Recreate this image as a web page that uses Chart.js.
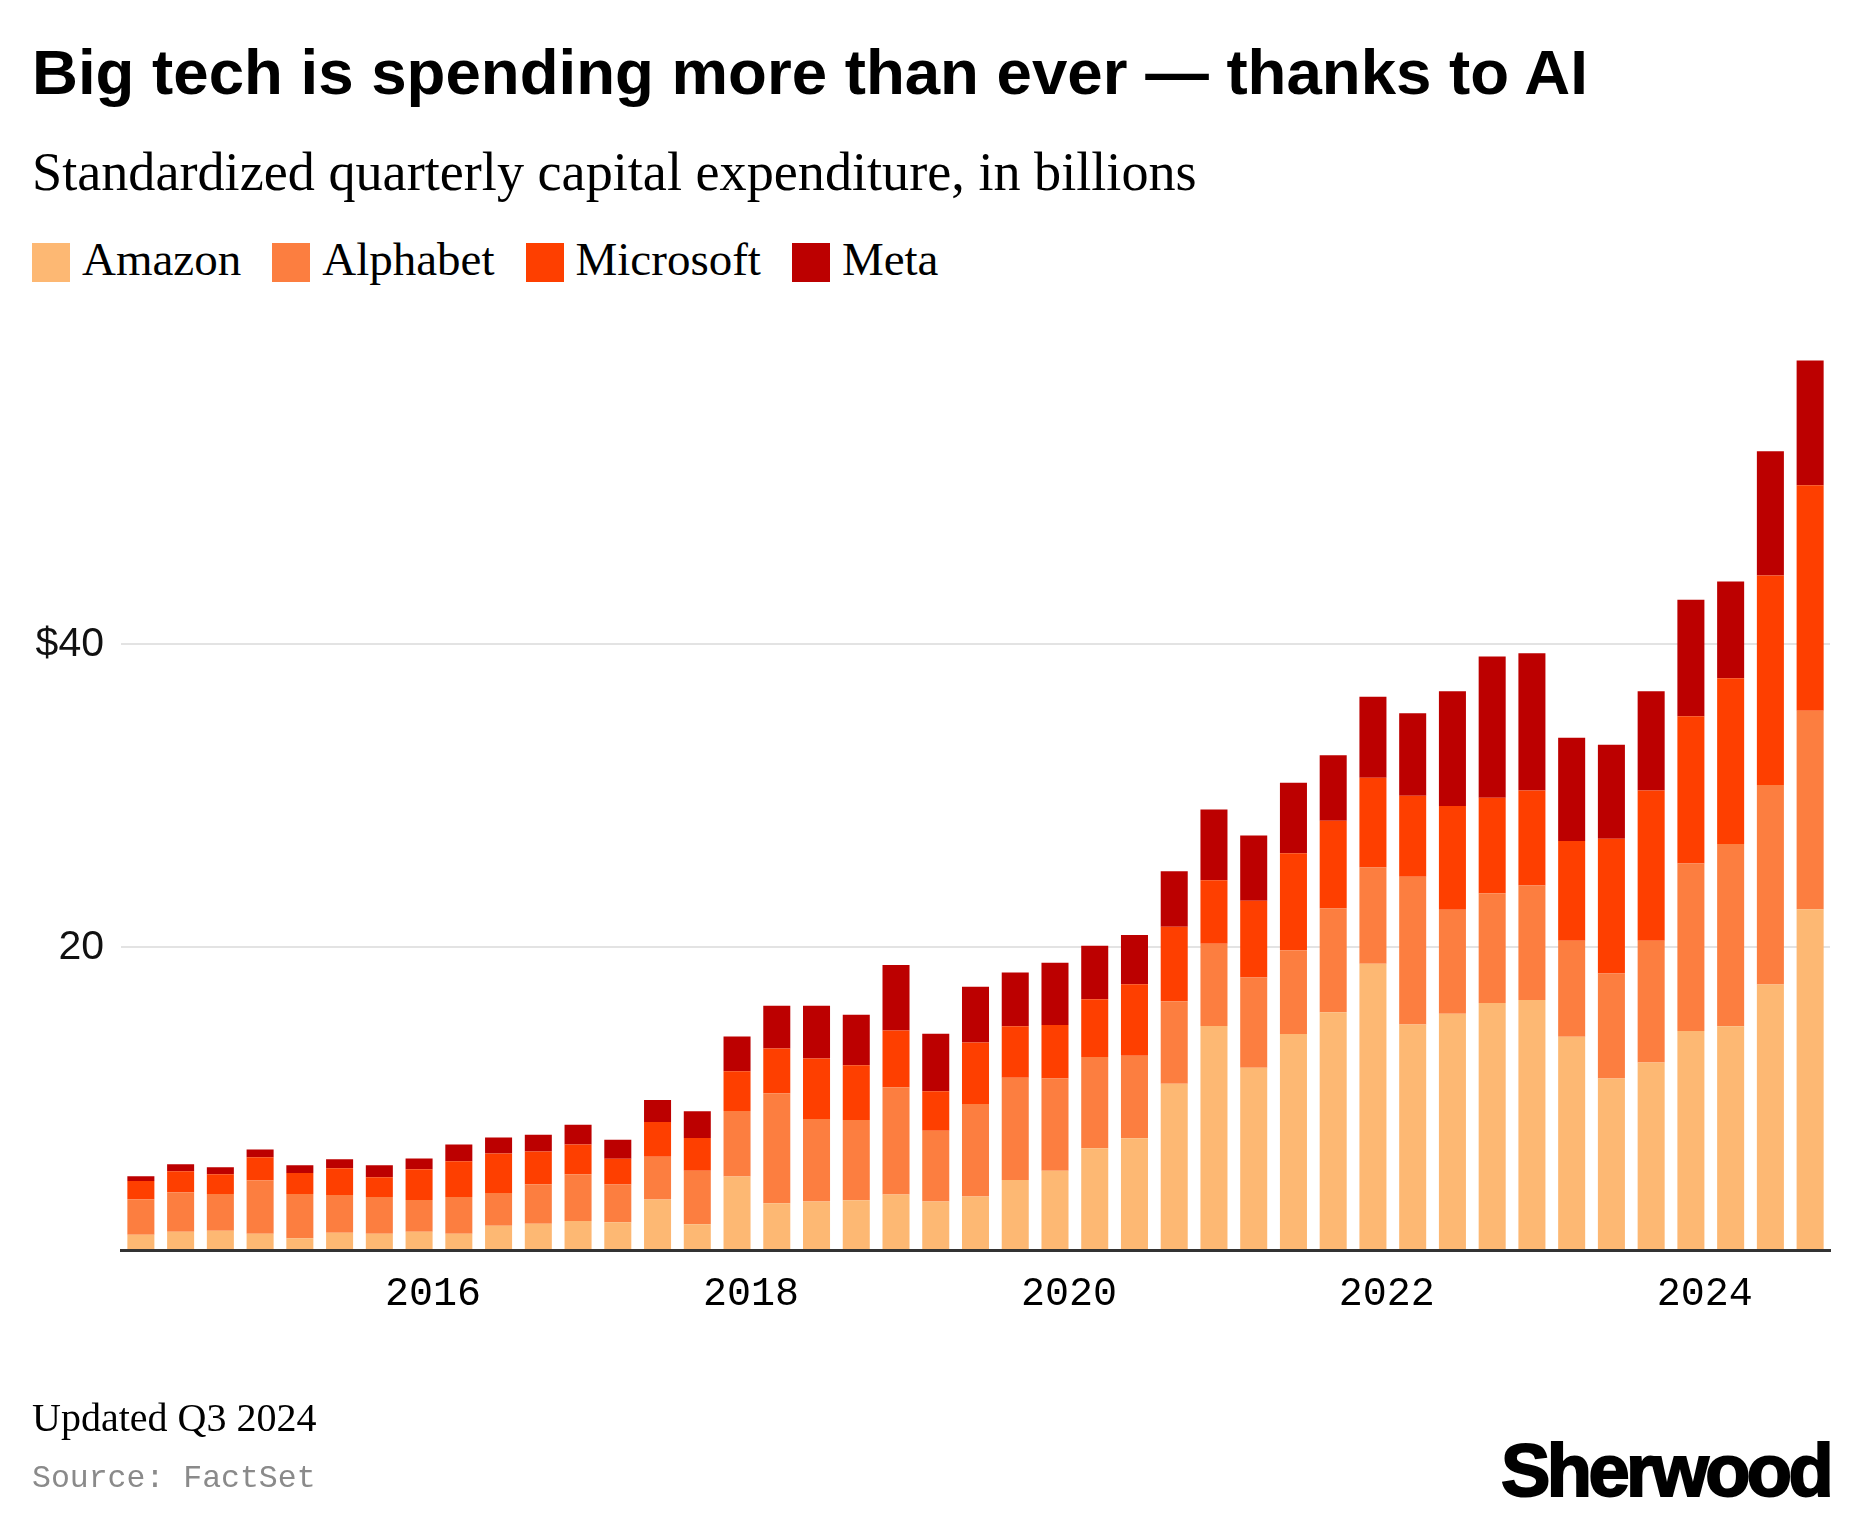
<!DOCTYPE html>
<html>
<head>
<meta charset="utf-8">
<script src="https://cdn.jsdelivr.net/npm/chart.js@4.4.1/dist/chart.umd.min.js"></script>
<style>
html, body { margin: 0; padding: 0; background: #fff; }
body { width: 1860px; height: 1533px; position: relative; overflow: hidden; color: #000; }
#title { position: absolute; left: 32px; top: 40px; font: 700 63.6px/1 "Liberation Sans", sans-serif; white-space: nowrap; }
#subtitle { position: absolute; left: 32px; top: 145px; font: 400 54.2px/1 "Liberation Serif", serif; white-space: nowrap; }
#legend { position: absolute; left: 32px; top: 236px; display: flex; gap: 31px; font: 400 47px/1 "Liberation Serif", serif; }
#legend .item { display: flex; align-items: flex-start; }
#legend .swatch { width: 38px; height: 39px; margin-top: 7px; margin-right: 12px; }
#wrap { position: absolute; left: 0; top: 300px; width: 1860px; height: 1100px; }
#updated { position: absolute; left: 32px; top: 1398px; font: 400 40px/1 "Liberation Serif", serif; white-space: nowrap; }
#source { position: absolute; left: 32px; top: 1463px; font: 400 31.5px/1 "Liberation Mono", monospace; color: #8a8a8a; white-space: nowrap; }
#logo { position: absolute; right: 30px; top: 1434px; font: 700 74px/1 "Liberation Sans", sans-serif; letter-spacing: -3.6px; -webkit-text-stroke: 2px #000; white-space: nowrap; }
</style>
</head>
<body>
<div id="title">Big tech is spending more than ever — thanks to AI</div>
<div id="subtitle">Standardized quarterly capital expenditure, in billions</div>
<div id="legend"></div>
<div id="wrap"><canvas id="chart" width="1860" height="1100"></canvas></div>
<div id="updated">Updated Q3 2024</div>
<div id="source">Source: FactSet</div>
<div id="logo">Sherwood</div>
<script>
'use strict';

// quarters, Q1 2014 .. Q3 2024
const quarters = [
    'Q1 2014', 'Q2 2014', 'Q3 2014', 'Q4 2014',
    'Q1 2015', 'Q2 2015', 'Q3 2015', 'Q4 2015',
    'Q1 2016', 'Q2 2016', 'Q3 2016', 'Q4 2016',
    'Q1 2017', 'Q2 2017', 'Q3 2017', 'Q4 2017',
    'Q1 2018', 'Q2 2018', 'Q3 2018', 'Q4 2018',
    'Q1 2019', 'Q2 2019', 'Q3 2019', 'Q4 2019',
    'Q1 2020', 'Q2 2020', 'Q3 2020', 'Q4 2020',
    'Q1 2021', 'Q2 2021', 'Q3 2021', 'Q4 2021',
    'Q1 2022', 'Q2 2022', 'Q3 2022', 'Q4 2022',
    'Q1 2023', 'Q2 2023', 'Q3 2023', 'Q4 2023',
    'Q1 2024', 'Q2 2024', 'Q3 2024'
];

// capex in billions
const amazon = [
    1.00, 1.20, 1.27, 1.07, 0.77, 1.14, 1.07, 1.20,
    1.07, 1.60, 1.73, 1.92, 1.84, 3.34, 1.70, 4.85,
    3.08, 3.21, 3.28, 3.67, 3.21, 3.54, 4.63, 5.23,
    6.72, 7.38, 10.98, 14.79, 12.04, 14.26, 15.70, 18.91,
    14.89, 15.61, 16.31, 16.51, 14.08, 11.33, 12.39, 14.47,
    14.78, 17.53, 22.51
];
const alphabet = [
    2.36, 2.62, 2.43, 3.54, 2.93, 2.49, 2.43, 2.10,
    2.43, 2.16, 2.62, 3.08, 2.49, 2.82, 3.54, 4.33,
    7.28, 5.44, 5.31, 7.08, 4.66, 6.10, 6.74, 6.10,
    6.03, 5.45, 5.45, 5.43, 5.96, 5.54, 6.85, 6.36,
    9.77, 6.86, 7.25, 7.57, 6.35, 6.94, 8.04, 11.06,
    12.04, 13.18, 13.10
];
const microsoft = [
    1.20, 1.38, 1.31, 1.51, 1.38, 1.77, 1.31, 2.03,
    2.36, 2.62, 2.16, 1.97, 1.70, 2.30, 2.16, 2.62,
    2.95, 4.00, 3.61, 3.74, 2.62, 4.07, 3.41, 3.53,
    3.81, 4.72, 4.92, 4.21, 5.06, 6.41, 5.81, 5.92,
    5.35, 6.86, 6.31, 6.27, 6.59, 8.90, 9.92, 9.73,
    10.94, 13.84, 14.90
];
const meta = [
    0.31, 0.46, 0.46, 0.52, 0.52, 0.59, 0.79, 0.72,
    1.11, 1.05, 1.11, 1.31, 1.25, 1.44, 1.77, 2.30,
    2.82, 3.48, 3.34, 4.33, 3.80, 3.67, 3.55, 4.12,
    3.53, 3.26, 3.66, 4.66, 4.32, 4.66, 4.32, 5.36,
    5.45, 7.57, 9.33, 9.06, 6.82, 6.20, 6.55, 7.69,
    6.39, 8.20, 8.24
];

const series_names = ['Amazon', 'Alphabet', 'Microsoft', 'Meta'];
const series_colors = ['#fdb873', '#fc7e40', '#fe3f00', '#bc0000'];
const year_ticks = ['2016', '2018', '2020', '2022', '2024'];
const value_ticks = [0, 20, 40];
const value_tick_labels = ['', '20', '$40'];

var series_values = [amazon, alphabet, microsoft, meta];

// html legend
var legend = document.getElementById('legend');
for( var i = 0 ; i < series_names.length ; i++ ){
    var item = document.createElement('div');
    item.className = 'item';
    var swatch = document.createElement('div');
    swatch.className = 'swatch';
    swatch.style.background = series_colors[i];
    var label = document.createElement('span');
    label.textContent = series_names[i];
    item.appendChild(swatch);
    item.appendChild(label);
    legend.appendChild(item);
}

var datasets = [];
for( var i = 0 ; i < series_names.length ; i++ ){
    datasets.push({
        label: series_names[i],
        data: series_values[i],
        backgroundColor: series_colors[i],
        borderWidth: 0,
        categoryPercentage: 1,
        barPercentage: 0.68,
    });
}

// year labels sit just before the first quarter of each year
var year_positions = year_ticks.map(y => quarters.indexOf('Q1 ' + y) - 0.65);

const ctx = document.getElementById('chart').getContext('2d');
window.chart = new Chart(ctx, {
    type: 'bar',
    data: {
        labels: quarters,
        datasets: datasets,
    },
    options: {
        responsive: false,
        animation: false,
        devicePixelRatio: 1,
        layout: {
            padding: { top: 35, right: 30, left: 0, bottom: 0 },
        },
        plugins: {
            legend: { display: false },
            tooltip: { enabled: false },
        },
        scales: {
            x: {
                stacked: true,
                display: false,
            },
            years: {
                type: 'linear',
                position: 'bottom',
                offset: false,
                min: -0.5,
                max: quarters.length - 0.5,
                afterBuildTicks: axis => { axis.ticks = year_positions.map(v => ({ value: v })); },
                afterFit: axis => { axis.height = 150; },
                grid: { display: false, drawTicks: false },
                border: { display: true, color: '#333333', width: 3, z: 1 },
                ticks: {
                    font: { family: 'Liberation Mono', size: 40 },
                    color: '#000000',
                    padding: 20,
                    maxRotation: 0,
                    autoSkip: false,
                    callback: (v, idx) => year_ticks[idx],
                },
            },
            y: {
                stacked: true,
                min: 0,
                max: 60,
                afterBuildTicks: axis => { axis.ticks = value_ticks.map(v => ({ value: v })); },
                afterFit: axis => { axis.width = 121; },
                border: { display: false },
                grid: {
                    drawTicks: false,
                    lineWidth: 2,
                    color: c => (c.tick && c.tick.value === 0) ? 'rgba(0,0,0,0)' : '#e3e3e3',
                },
                ticks: {
                    font: { family: 'Liberation Sans', size: 41 },
                    color: '#111111',
                    padding: 17,
                    callback: (v, idx) => value_tick_labels[idx],
                },
            },
        },
    },
});
</script>
</body>
</html>
